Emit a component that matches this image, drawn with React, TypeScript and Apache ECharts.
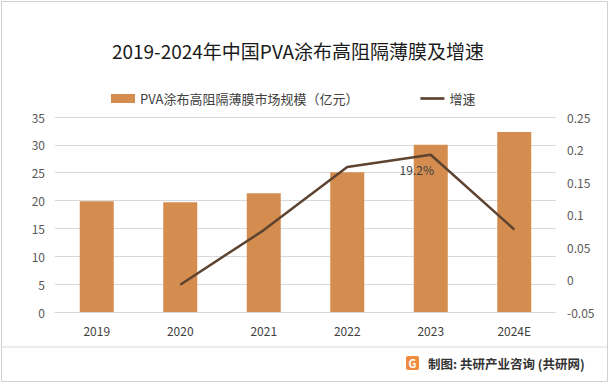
import React, { useEffect, useRef } from "react";
import * as echarts from "echarts";

const categories = ["2019", "2020", "2021", "2022", "2023", "2024E"];
const marketSize = [19.9, 19.7, 21.3, 25.1, 30.0, 32.3];
const growth = [null, -0.008, 0.076, 0.173, 0.192, 0.077];
const growthLabels = ["", "", "", "", "19.2%", ""];
const leftTicks = { min: 0, max: 35, interval: 5 };
const rightTicks = { min: -0.05, max: 0.25, interval: 0.05 };

const FONT = "'Noto Sans CJK SC', 'Noto Sans', sans-serif";

export default function App() {
  const ref = useRef<HTMLDivElement>(null);
  useEffect(() => {
    if (!ref.current) return;
    const chart = echarts.init(ref.current, null, { renderer: "svg" });
    chart.setOption({
      animation: false,
      backgroundColor: "#ffffff",
      textStyle: { fontFamily: FONT },
      title: {
        text: "2019-2024年中国PVA涂布高阻隔薄膜及增速",
        left: 293,
        textAlign: "center",
        top: 36,
        textStyle: { fontSize: 19, fontWeight: "normal", color: "#1a1a1a", fontFamily: FONT },
      },
      legend: {
        left: 106,
        top: 87,
        itemGap: 62,
        itemWidth: 24,
        itemHeight: 9,
        textStyle: { fontSize: 13, color: "#404040", fontFamily: FONT },
        data: [
          { name: "PVA涂布高阻隔薄膜市场规模（亿元）", icon: "rect" },
          { name: "增速", icon: "path://M0,0 L27,0 L27,3 L0,3 Z", itemStyle: { color: "#5E4330" } },
        ],
      },
      grid: { left: 55, right: 57, top: 117, bottom: 73 },
      xAxis: {
        type: "category",
        data: categories,
        axisTick: { show: false },
        axisLine: { show: true, lineStyle: { color: "#d9d9d9" } },
        axisLabel: { color: "#404040", fontSize: 12, margin: 12, fontFamily: FONT },
      },
      yAxis: [
        {
          type: "value",
          min: leftTicks.min,
          max: leftTicks.max,
          interval: leftTicks.interval,
          axisLine: { show: false },
          axisTick: { show: false },
          axisLabel: { color: "#595959", fontSize: 12, margin: 10, fontFamily: FONT },
          splitLine: { lineStyle: { color: "#d9d9d9" } },
        },
        {
          type: "value",
          min: rightTicks.min,
          max: rightTicks.max,
          interval: rightTicks.interval,
          axisLine: { show: false },
          axisTick: { show: false },
          splitLine: { show: false },
          axisLabel: {
            color: "#595959",
            fontSize: 12,
            margin: 11,
            fontFamily: FONT,
            formatter: (v: number) => String(Math.round(v * 100) / 100),
          },
        },
      ],
      series: [
        {
          name: "PVA涂布高阻隔薄膜市场规模（亿元）",
          type: "bar",
          data: marketSize,
          barWidth: 34,
          itemStyle: { color: "#D48D4F" },
        },
        {
          name: "增速",
          type: "line",
          yAxisIndex: 1,
          data: growth,
          symbol: "circle",
          symbolSize: 0,
          showSymbol: true,
          lineStyle: { color: "#5E4330", width: 2.5 },
          itemStyle: { color: "#5E4330" },
          label: {
            show: true,
            position: "bottom",
            offset: [-14, 4],
            color: "#404040",
            fontSize: 12,
            fontFamily: FONT,
            formatter: (p: any) => growthLabels[p.dataIndex],
          },
        },
      ],
      graphic: [
        {
          type: "rect",
          shape: { x: 1.5, y: 1.5, width: 606, height: 380 },
          style: { fill: "none", stroke: "#d0d0d0", lineWidth: 1 },
          silent: true,
        },
        {
          type: "line",
          shape: { x1: 2, y1: 347, x2: 607, y2: 347 },
          style: { stroke: "#d9d9d9", lineWidth: 1 },
          silent: true,
        },
        {
          type: "rect",
          shape: { x: 406, y: 356, width: 13, height: 14, r: 2 },
          style: { fill: "#F08A3C" },
          silent: true,
        },
        {
          type: "text",
          style: {
            x: 412.5,
            y: 363,
            text: "G",
            fill: "#ffffff",
            fontSize: 11,
            fontWeight: "bold",
            align: "center",
            verticalAlign: "middle",
            fontFamily: FONT,
          },
          silent: true,
        },
        {
          type: "text",
          style: {
            x: 428,
            y: 363,
            text: "制图: 共研产业咨询 (共研网)",
            fill: "#333333",
            fontSize: 12.5,
            fontWeight: "bold",
            verticalAlign: "middle",
            fontFamily: FONT,
          },
          silent: true,
        },
      ],
    });
    return () => chart.dispose();
  }, []);
  return <div ref={ref} style={{ width: 613, height: 385, position: "absolute", left: 0, top: 0 }} />;
}
